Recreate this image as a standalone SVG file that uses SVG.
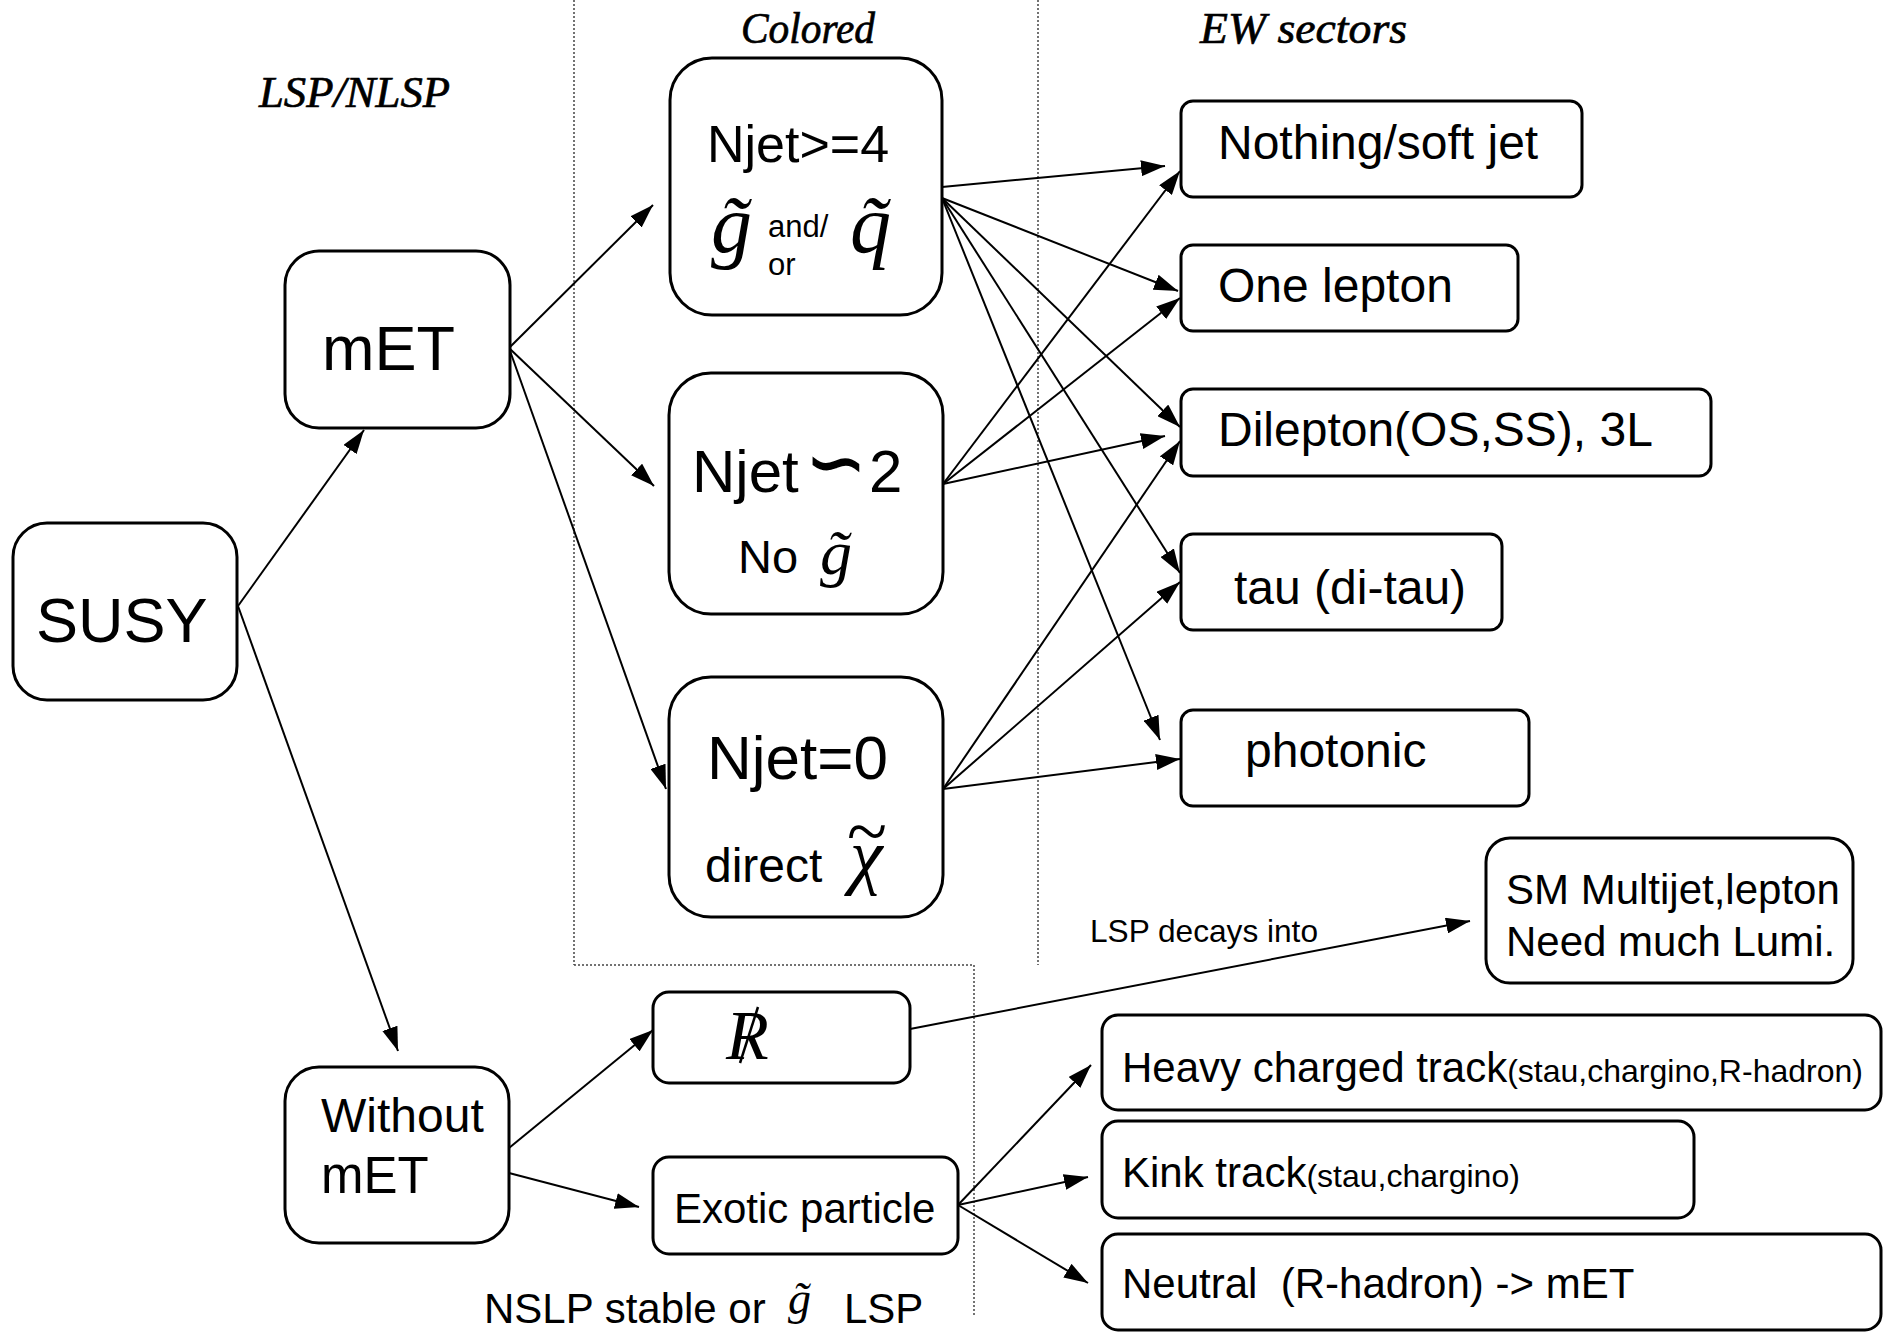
<svg xmlns="http://www.w3.org/2000/svg" width="1883" height="1333" viewBox="0 0 1883 1333">
<style>
.box{fill:#fff;stroke:#000;stroke-width:3}
.sans{font-family:"Liberation Sans",Arial,sans-serif;fill:#000}
.ser{font-family:"Liberation Serif","DejaVu Serif",serif;font-style:italic;fill:#000}
.head{font-family:"Liberation Serif",serif;font-style:italic;font-size:45px;fill:#000;stroke:#000;stroke-width:0.7}
.dot{stroke:#444;stroke-width:1.5;stroke-dasharray:2 2;fill:none}
.edge{stroke:#000;stroke-width:2;fill:none;marker-end:url(#arr)}
</style>
<defs>
<marker id="arr" markerUnits="userSpaceOnUse" markerWidth="24" markerHeight="16" refX="24" refY="8" orient="auto">
<path d="M0,0 L24,8 L0,16 z" fill="#000"/>
</marker>
</defs>
<rect width="1883" height="1333" fill="#fff"/>
<g id="dividers">
<line class="dot" x1="574" y1="0" x2="574" y2="965"/>
<line class="dot" x1="1038" y1="0" x2="1038" y2="965"/>
<line class="dot" x1="574" y1="965" x2="974" y2="965"/>
<line class="dot" x1="974" y1="965" x2="974" y2="1316"/>
</g>
<g id="labels">
<text class="head" x="259" y="107" textLength="191" lengthAdjust="spacingAndGlyphs">LSP/NLSP</text>
<text class="head" x="741" y="43" textLength="134" lengthAdjust="spacingAndGlyphs">Colored</text>
<text class="head" x="1200" y="43" textLength="207" lengthAdjust="spacingAndGlyphs">EW sectors</text>
<text class="sans" x="1090" y="942" font-size="32" textLength="228" lengthAdjust="spacingAndGlyphs">LSP decays into</text>
<text class="sans" x="484" y="1323" font-size="42">NSLP stable or</text>
<text class="ser" x="788" y="1314" font-size="46">g&#x303;</text>
<text class="sans" x="844" y="1323" font-size="42">LSP</text>
</g>
<g id="connectors">
<line class="edge" x1="238" y1="606" x2="364" y2="430"/>
<line class="edge" x1="238" y1="606" x2="398" y2="1051"/>
<line class="edge" x1="509" y1="348" x2="653" y2="205"/>
<line class="edge" x1="509" y1="348" x2="654" y2="486"/>
<line class="edge" x1="509" y1="348" x2="666" y2="789"/>
<line class="edge" x1="942" y1="187" x2="1165" y2="166"/>
<line class="edge" x1="942" y1="198" x2="1178" y2="291"/>
<line class="edge" x1="942" y1="198" x2="1180" y2="427"/>
<line class="edge" x1="942" y1="198" x2="1180" y2="573"/>
<line class="edge" x1="942" y1="198" x2="1160" y2="740"/>
<line class="edge" x1="943" y1="484" x2="1180" y2="171"/>
<line class="edge" x1="943" y1="484" x2="1180" y2="298"/>
<line class="edge" x1="943" y1="484" x2="1165" y2="436"/>
<line class="edge" x1="943" y1="789" x2="1180" y2="441"/>
<line class="edge" x1="943" y1="789" x2="1180" y2="582"/>
<line class="edge" x1="943" y1="789" x2="1180" y2="759"/>
<line class="edge" x1="509" y1="1148" x2="653" y2="1030"/>
<line class="edge" x1="509" y1="1173" x2="639" y2="1207"/>
<line class="edge" x1="910" y1="1029" x2="1470" y2="921"/>
<line class="edge" x1="958" y1="1205" x2="1091" y2="1065"/>
<line class="edge" x1="958" y1="1205" x2="1088" y2="1177"/>
<line class="edge" x1="958" y1="1205" x2="1088" y2="1283"/>
</g>
<g id="susy">
<rect class="box" x="13" y="523" width="224" height="177" rx="34"/>
<text class="sans" x="36" y="642" font-size="63">SUSY</text>
</g>
<g id="met">
<rect class="box" x="285" y="251" width="225" height="177" rx="34"/>
<text class="sans" x="322" y="370" font-size="63">mET</text>
</g>
<g id="without-met">
<rect class="box" x="285" y="1067" width="224" height="176" rx="34"/>
<text class="sans" x="321" y="1132" font-size="48">Without</text>
<text class="sans" x="321" y="1193" font-size="51">mET</text>
</g>
<g id="njet4">
<rect class="box" x="670" y="58" width="272" height="257" rx="42"/>
<text class="sans" x="707" y="162" font-size="52">Njet&gt;=4</text>
<text class="ser" x="711" y="252" font-size="82">g&#x303;</text>
<text class="sans" x="768" y="237" font-size="31">and/</text>
<text class="sans" x="768" y="275" font-size="31">or</text>
<text class="ser" x="850" y="252" font-size="82">q&#x303;</text>
</g>
<g id="njet2">
<rect class="box" x="669" y="373" width="274" height="241" rx="42"/>
<text class="sans" x="692" y="492" font-size="60">Njet</text>
<text x="836" y="487" font-size="72" text-anchor="middle" font-family="DejaVu Sans,sans-serif" stroke="#000" stroke-width="1.6">∽</text>
<text class="sans" x="869" y="492" font-size="60">2</text>
<text class="sans" x="738" y="573" font-size="47">No</text>
<text class="ser" x="820" y="574" font-size="64">g&#x303;</text>
</g>
<g id="njet0">
<rect class="box" x="669" y="677" width="274" height="240" rx="42"/>
<text class="sans" x="707" y="779" font-size="62">Njet=0</text>
<text class="sans" x="705" y="882" font-size="48">direct</text>
<text class="ser" font-size="74" x="850 846" y="880 856">χ~</text>
</g>
<g id="rpv">
<rect class="box" x="653" y="992" width="257" height="91" rx="16"/>
<text class="ser" x="726" y="1059" font-size="70">R</text>
<line x1="758" y1="1007" x2="740" y2="1063" stroke="#000" stroke-width="2.5"/>
</g>
<g id="exotic">
<rect class="box" x="653" y="1157" width="305" height="97" rx="16"/>
<text class="sans" x="674" y="1223" font-size="42">Exotic particle</text>
</g>
<g id="nothing">
<rect class="box" x="1181" y="101" width="401" height="96" rx="12"/>
<text class="sans" x="1218" y="159" font-size="48">Nothing/soft jet</text>
</g>
<g id="one-lepton">
<rect class="box" x="1181" y="245" width="337" height="86" rx="12"/>
<text class="sans" x="1218" y="302" font-size="48">One lepton</text>
</g>
<g id="dilepton">
<rect class="box" x="1181" y="389" width="530" height="87" rx="12"/>
<text class="sans" x="1218" y="446" font-size="48">Dilepton(OS,SS), 3L</text>
</g>
<g id="tau">
<rect class="box" x="1181" y="534" width="321" height="96" rx="12"/>
<text class="sans" x="1234" y="604" font-size="48">tau (di-tau)</text>
</g>
<g id="photonic">
<rect class="box" x="1181" y="710" width="348" height="96" rx="12"/>
<text class="sans" x="1245" y="767" font-size="48">photonic</text>
</g>
<g id="sm-multijet">
<rect class="box" x="1486" y="838" width="367" height="145" rx="24"/>
<text class="sans" x="1506" y="904" font-size="42">SM Multijet,lepton</text>
<text class="sans" x="1506" y="956" font-size="42">Need much Lumi.</text>
</g>
<g id="heavy">
<rect class="box" x="1102" y="1015" width="779" height="95" rx="16"/>
<text class="sans" x="1122" y="1082" font-size="42">Heavy charged track<tspan font-size="32">(stau,chargino,R-hadron)</tspan></text>
</g>
<g id="kink">
<rect class="box" x="1102" y="1121" width="592" height="97" rx="16"/>
<text class="sans" x="1122" y="1187" font-size="42">Kink track<tspan font-size="32">(stau,chargino)</tspan></text>
</g>
<g id="neutral">
<rect class="box" x="1102" y="1234" width="779" height="96" rx="16"/>
<text class="sans" x="1122" y="1298" font-size="42">Neutral&#160; (R-hadron) -&gt; mET</text>
</g>
</svg>
